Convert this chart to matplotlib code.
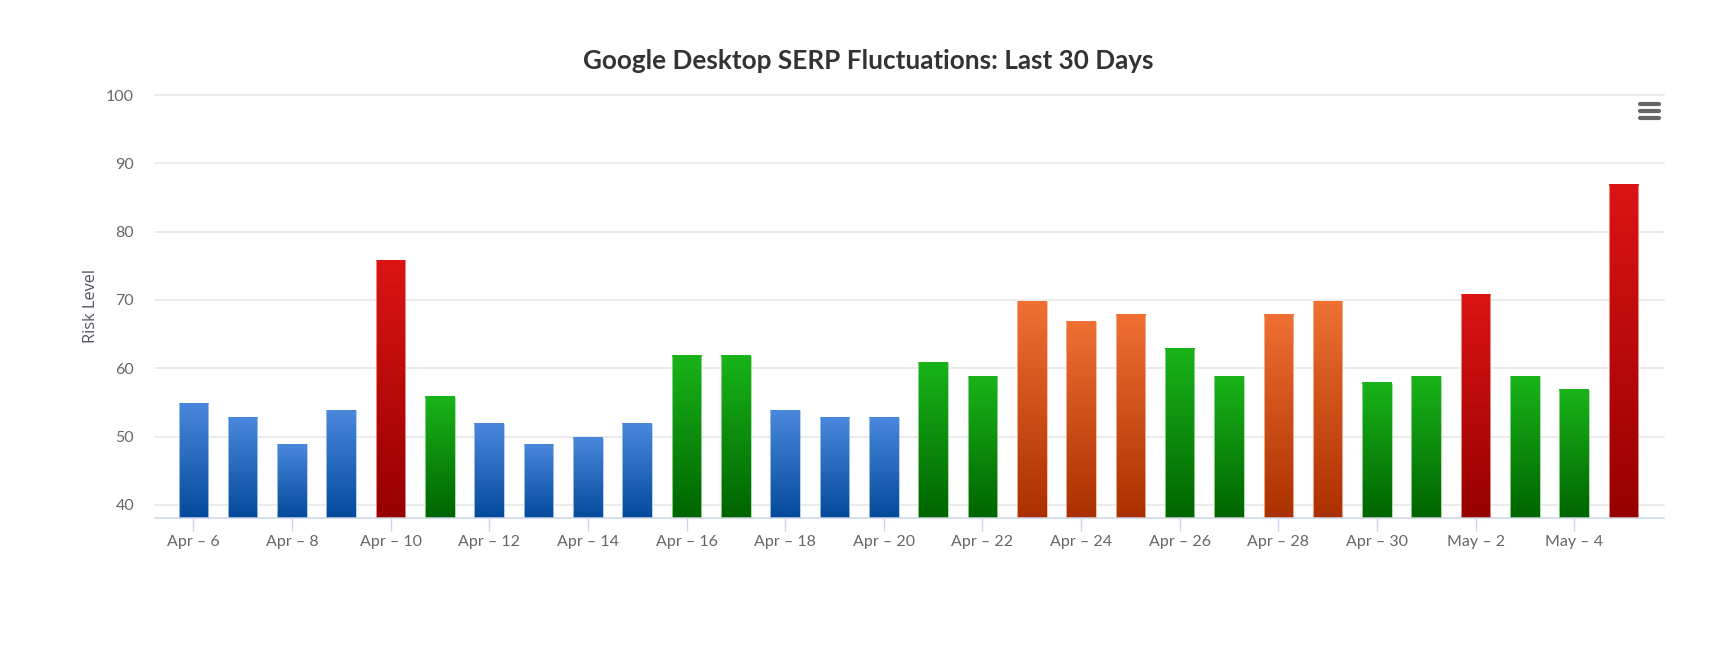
import numpy as np
import matplotlib
matplotlib.use("Agg")
import matplotlib.pyplot as plt
from matplotlib.colors import LinearSegmentedColormap
from matplotlib.lines import Line2D

days = ["Apr – 6", "Apr – 7", "Apr – 8", "Apr – 9", "Apr – 10", "Apr – 11", "Apr – 12", "Apr – 13",
        "Apr – 14", "Apr – 15", "Apr – 16", "Apr – 17", "Apr – 18", "Apr – 19", "Apr – 20", "Apr – 21",
        "Apr – 22", "Apr – 23", "Apr – 24", "Apr – 25", "Apr – 26", "Apr – 27", "Apr – 28", "Apr – 29",
        "Apr – 30", "May – 1", "May – 2", "May – 3", "May – 4", "May – 5"]
risk = [55, 53, 49, 54, 76, 56, 52, 49, 50, 52, 62, 62, 54, 53, 53, 61, 59, 70, 67, 68,
        63, 59, 68, 70, 58, 59, 71, 59, 57, 87]
levels = ["b", "b", "b", "b", "r", "g", "b", "b", "b", "b", "g", "g", "b", "b", "b", "g", "g", "o", "o", "o",
          "g", "g", "o", "o", "g", "g", "r", "g", "g", "r"]
gradients = {"b": ("#4a88dd", "#044a9b"), "g": ("#19b419", "#006400"),
             "o": ("#f07033", "#aa3000"), "r": ("#dc1414", "#960000")}
edges = {"b": "#a9c6ee", "g": "#9ad89a", "o": "#f5b896", "r": "#eea0a0"}

W, H = 1715, 664
fig = plt.figure(figsize=(W / 100, H / 100), dpi=100, facecolor="white")
L, R, T, B = 155, 1664, 95, 518
ax = fig.add_axes([L / W, 1 - B / H, (R - L) / W, (B - T) / H])
xlim = (-0.777, 29.82)
ylim = (38.07, 100)
top_inset = 0.16

x = np.arange(len(risk))
bars = ax.bar(x, np.array(risk) - ylim[0] - top_inset, bottom=ylim[0], width=0.6, color="none",
              linewidth=0, zorder=3)
grad = np.linspace(0, 1, 256).reshape(-1, 1)
for b, lev in zip(bars, levels):
    cmap = LinearSegmentedColormap.from_list("g", [gradients[lev][1], gradients[lev][0]])
    x0, y0, w, h = b.get_x(), b.get_y(), b.get_width(), b.get_height()
    ax.imshow(grad, cmap=cmap, origin="lower", aspect="auto", extent=(x0, x0 + w, y0, y0 + h),
              zorder=2.5, interpolation="bilinear")
    ax.vlines([x0, x0 + w], y0, y0 + h, color=edges[lev], linewidth=0.6, zorder=3)
ax.set_xlim(*xlim)
ax.set_ylim(*ylim)

font = ["Lato", "DejaVu Sans"]
ax.set_yticks(range(40, 101, 10))
ax.set_xticks(x[::2])
ax.set_xticklabels(days[::2], family=font, fontsize=11.5, color="#666666")
ax.tick_params(axis="x", length=9.4, width=1, color="#ccd6eb", pad=2.5)
ax.tick_params(axis="y", length=0, pad=15, labelsize=11.5, labelcolor="#666666")
for t in ax.get_yticklabels():
    t.set_family(font)
ax.grid(axis="y", color="#e6e6e6", linewidth=1.1, zorder=0)
ax.set_axisbelow(True)
for s in ("top", "right", "left"):
    ax.spines[s].set_visible(False)
ax.spines["bottom"].set_color("#ccd6eb")
ax.spines["bottom"].set_linewidth(1.1)
for gl in ax.get_ygridlines():
    gl.set_clip_on(False)

fig.text(868.5 / W, 1 - 61 / H, "Google Desktop SERP Fluctuations: Last 30 Days", family=font,
         fontweight="bold", fontsize=18.8, color="#333333", ha="center", va="center")
fig.text(91 / W, 1 - 305.5 / H, "Risk Level", family=["Open Sans", "DejaVu Sans"], fontsize=11.8,
         color="#505060", rotation=90, ha="center", va="center")

for yy in (104, 111, 118):
    fig.add_artist(Line2D([1640 / W, 1659 / W], [1 - yy / H, 1 - yy / H], color="#666666",
                          linewidth=3, solid_capstyle="round"))

fig.savefig("out.png", dpi=100, facecolor="white")
